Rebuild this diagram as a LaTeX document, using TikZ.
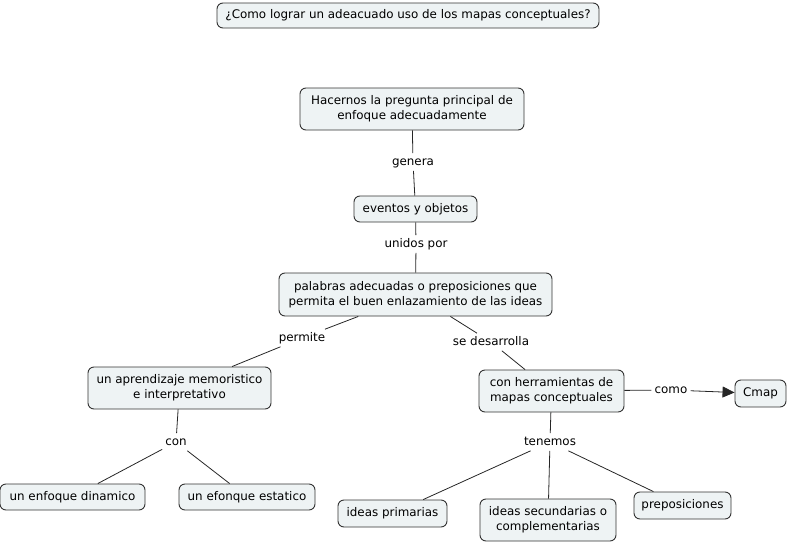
\documentclass[tikz,border=0pt]{standalone}
\usepackage{fontspec}
\setmainfont{DejaVu Sans}
\usetikzlibrary{arrows.meta}
\definecolor{boxfill}{HTML}{EEF3F4}
\definecolor{boxline}{HTML}{333333}
\begin{document}
\begin{tikzpicture}[x=1pt,y=-1pt,
  font=\fontsize{11.9}{15}\selectfont,
  concept/.style={draw=boxline, line width=0.9pt, fill=boxfill, rounded corners=6pt,
    align=center, inner sep=2pt},
  linkword/.style={inner xsep=3pt, inner ysep=3pt, text height=9.4pt, text depth=1.8pt},
  conn/.style={draw=black!85, line width=0.8pt}
]
\useasboundingbox (0,0) rectangle (788,544);

% concepts
\node[concept, minimum width=382pt, minimum height=25pt] (title) at (408,15.5)
  {¿Como lograr un adeacuado uso de los mapas conceptuales?};
\node[concept, minimum width=224pt, minimum height=42pt] (preg) at (412,109)
  {Hacernos la pregunta principal de\\enfoque adecuadamente};
\node[concept, minimum width=123pt, minimum height=26pt] (ev) at (415.5,209)
  {eventos y objetos};
\node[concept, minimum width=273pt, minimum height=43pt] (pal) at (415.5,294.5)
  {palabras adecuadas o preposiciones que\\permita el buen enlazamiento de las ideas};
\node[concept, minimum width=183pt, minimum height=42pt] (apr) at (179.5,388)
  {un aprendizaje memoristico\\e interpretativo};
\node[concept, minimum width=145pt, minimum height=42pt] (her) at (551.5,391)
  {con herramientas de\\mapas conceptuales};
\node[concept, minimum width=51pt, minimum height=27pt] (cmap) at (760.5,393.5)
  {Cmap};
\node[concept, minimum width=145pt, minimum height=26pt] (din) at (72.5,497)
  {un enfoque dinamico};
\node[concept, minimum width=136pt, minimum height=26pt] (est) at (247,497)
  {un efonque estatico};
\node[concept, minimum width=109pt, minimum height=27pt] (prim) at (392.5,513.5)
  {ideas primarias};
\node[concept, minimum width=136pt, minimum height=42pt] (sec) at (548,520)
  {ideas secundarias o\\complementarias};
\node[concept, minimum width=97pt, minimum height=27pt] (prep) at (682.5,505.5)
  {preposiciones};

% linking words
\node[linkword] (gen) at (413,162) {genera};
\node[linkword] (uni) at (416,244) {unidos por};
\node[linkword] (per) at (302,338) {permite};
\node[linkword] (des) at (491,342) {se desarrolla};
\node[linkword] (con) at (176,442) {con};
\node[linkword] (como) at (671,390) {como};
\node[linkword] (ten) at (550,442) {tenemos};

% connectors
\draw[conn] (preg) -- (gen);
\draw[conn] (gen) -- (ev);
\draw[conn] (ev) -- (uni);
\draw[conn] (uni) -- (pal);
\draw[conn] (pal) -- (per);
\draw[conn] (per) -- (apr);
\draw[conn] (pal) -- (des);
\draw[conn] (des) -- (her);
\draw[conn] (apr) -- (con);
\draw[conn] (con) -- (din);
\draw[conn] (con) -- (est);
\draw[conn] (her) -- (como);
\draw[conn, -{Triangle[length=12pt,width=11pt]}] (como) -- (cmap);
\draw[conn] (her) -- (ten);
\draw[conn] (ten) -- (prim);
\draw[conn] (ten) -- (sec);
\draw[conn] (ten) -- (prep);
\end{tikzpicture}
\end{document}
